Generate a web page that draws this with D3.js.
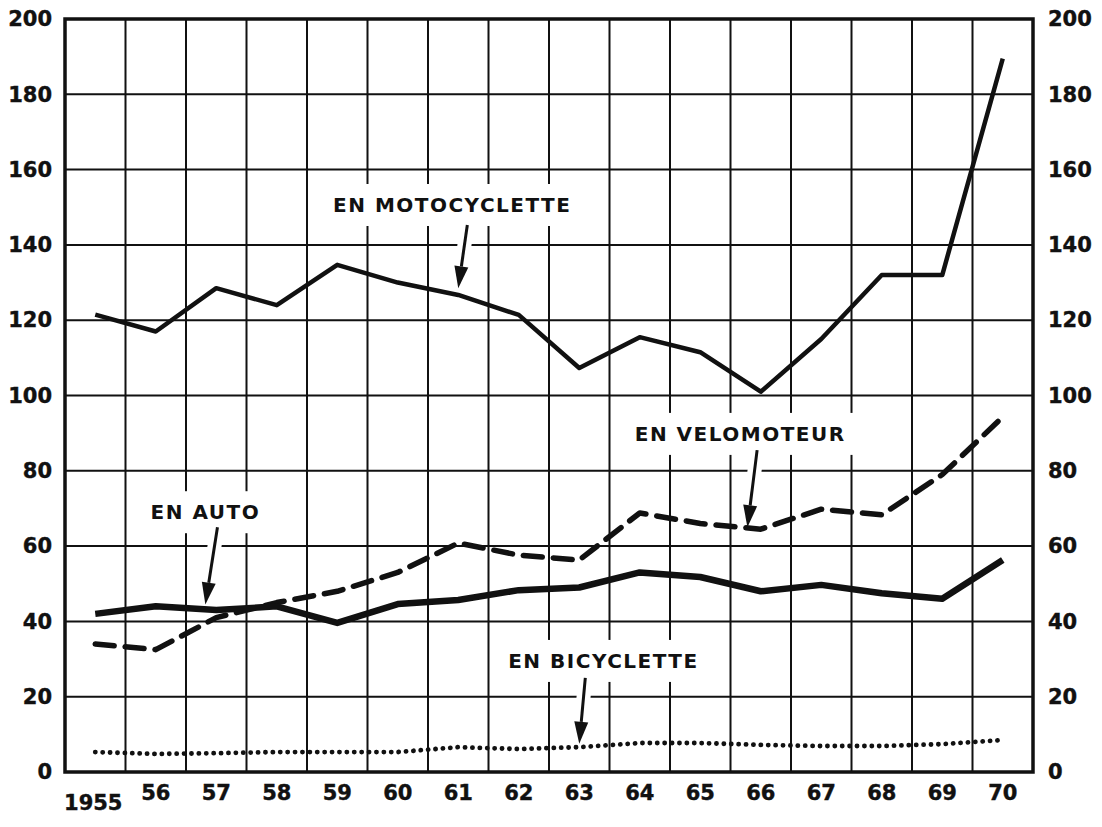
<!DOCTYPE html>
<html>
<head>
<meta charset="utf-8">
<script src="https://cdn.jsdelivr.net/npm/d3@7"></script>
<style>
  body { margin: 0; background: #fff; }
  text { font-family: "DejaVu Sans", sans-serif; font-weight: bold; fill: #111; }
</style>
</head>
<body>
<div id="chart"></div>
<script>
// Data
const years = d3.range(1955, 1971);
const yearLabels = ["1955", "56", "57", "58", "59", "60", "61", "62", "63", "64", "65", "66", "67", "68", "69", "70"];
const yTicks = [0, 20, 40, 60, 80, 100, 120, 140, 160, 180, 200];

const moto  = [121.5, 117, 128.5, 124, 134.7, 130, 126.7, 121.4, 107.3, 115.5, 111.5, 101, 115, 132, 132, 189.5];
const velo  = [34, 32.5, 41, 45, 48, 53, 60.8, 57.6, 56.3, 68.8, 66, 64.5, 69.8, 68.3, 79, 94.3];
const auto  = [42, 44, 43, 44, 39.6, 44.6, 45.7, 48.3, 49, 53, 51.8, 48, 49.7, 47.5, 46, 56.3];
const bicy  = [5.3, 4.8, 5, 5.3, 5.3, 5.3, 6.6, 6.1, 6.6, 7.7, 7.7, 7.2, 6.9, 6.9, 7.4, 8.5];

// labels: text, label centre (year, value), arrow start, arrow tip
const notes = [
  {text: "EN MOTOCYCLETTE", lx: 1960.9, ly: 150.6, x1: 1961.15, y1: 145.3, x2: 1961.0, y2: 128.5},
  {text: "EN VELOMOTEUR",   lx: 1965.66, ly: 89.8, x1: 1965.94, y1: 85.5, x2: 1965.78, y2: 65},
  {text: "EN AUTO",         lx: 1956.82, ly: 69,   x1: 1957.02, y1: 65,   x2: 1956.82, y2: 44.5},
  {text: "EN BICYCLETTE",   lx: 1963.4, ly: 29.5,  x1: 1963.1, y1: 25,    x2: 1963.0, y2: 7.5}
];

const W = 1102, H = 827;
const margin = {top: 19, right: 69, bottom: 55, left: 65};
const width = W - margin.left - margin.right;
const height = H - margin.top - margin.bottom;

const svg = d3.select("#chart").append("svg")
    .attr("width", W).attr("height", H);
const g = svg.append("g")
    .attr("transform", `translate(${margin.left},${margin.top})`);

const x = d3.scaleBand().domain(years).range([0, width]).paddingInner(0).paddingOuter(0);
const bw = x.bandwidth();
const xc = d3.scaleLinear().domain([1955, 1970]).range([x(1955) + bw / 2, x(1970) + bw / 2]);
const y = d3.scaleLinear().domain([0, 200]).range([height, 0]);

// grid
g.append("g").selectAll("line.v")
  .data(years.slice(1))
  .join("line")
    .attr("x1", d => x(d)).attr("x2", d => x(d))
    .attr("y1", 0).attr("y2", height)
    .attr("stroke", "#111").attr("stroke-width", 2);
g.append("g").selectAll("line.h")
  .data(yTicks.slice(1, -1))
  .join("line")
    .attr("x1", 0).attr("x2", width)
    .attr("y1", d => y(d)).attr("y2", d => y(d))
    .attr("stroke", "#111").attr("stroke-width", 2);

// frame
g.append("rect")
    .attr("width", width).attr("height", height)
    .attr("fill", "none").attr("stroke", "#111").attr("stroke-width", 3.5);

// y axes labels
const yLeft = g.append("g")
    .call(d3.axisLeft(y).tickValues(yTicks).tickSize(0).tickPadding(13));
const yRight = g.append("g")
    .attr("transform", `translate(${width},0)`)
    .call(d3.axisRight(y).tickValues(yTicks).tickSize(0).tickPadding(15));
[yLeft, yRight].forEach(a => {
  a.select(".domain").remove();
  a.selectAll("text").style("font-size", "21px").style("font-family", "DejaVu Sans").style("font-weight", "bold")
    .attr("fill", "#111").attr("stroke", "#111").attr("stroke-width", 0.4);
});

// x axis labels
const xAxis = g.append("g")
    .attr("transform", `translate(0,${height})`)
    .call(d3.axisBottom(x).tickSize(0).tickPadding(13).tickFormat((d, i) => yearLabels[i]));
xAxis.select(".domain").remove();
xAxis.selectAll("text")
    .style("font-size", "21px").style("font-family", "DejaVu Sans").style("font-weight", "bold")
    .attr("fill", "#111").attr("stroke", "#111").attr("stroke-width", 0.4)
    .attr("dy", (d, i) => i === 0 ? "1.2em" : "0.71em")
    .attr("dx", (d, i) => i === 0 ? "-2" : "0");

// lines
const line = d3.line()
    .x((d, i) => x(years[i]) + bw / 2)
    .y(d => y(d));

g.append("path").datum(moto)
    .attr("d", line).attr("fill", "none")
    .attr("stroke", "#111").attr("stroke-width", 4.5).attr("stroke-linejoin", "round");
g.append("path").datum(velo)
    .attr("d", line).attr("fill", "none")
    .attr("stroke", "#111").attr("stroke-width", 5.5)
    .attr("stroke-dasharray", "19 11").attr("stroke-linecap", "round").attr("stroke-linejoin", "round");
g.append("path").datum(auto)
    .attr("d", line).attr("fill", "none")
    .attr("stroke", "#111").attr("stroke-width", 6.5).attr("stroke-linejoin", "round");
g.append("path").datum(bicy)
    .attr("d", line).attr("fill", "none")
    .attr("stroke", "#111").attr("stroke-width", 4.8)
    .attr("stroke-dasharray", "0.1 7.3").attr("stroke-linecap", "round");

// annotations
const ann = g.append("g");
notes.forEach(n => {
  const t = ann.append("text")
      .attr("x", xc(n.lx)).attr("y", y(n.ly))
      .attr("text-anchor", "middle").attr("dominant-baseline", "central")
      .style("font-size", "20px").style("letter-spacing", "1.5px")
      .text(n.text);
  const bb = t.node().getBBox();
  ann.insert("rect", "text")
      .attr("x", bb.x - 8).attr("y", bb.y - 9)
      .attr("width", bb.width + 16).attr("height", bb.height + 18)
      .attr("fill", "#fff");

  const ax1 = xc(n.x1), ay1 = y(n.y1), ax2 = xc(n.x2), ay2 = y(n.y2);
  const ang = Math.atan2(ay2 - ay1, ax2 - ax1);
  const hl = 22, hw = 7;
  const bx = ax2 - hl * Math.cos(ang), by = ay2 - hl * Math.sin(ang);
  // white halo under arrow shaft
  ann.append("line")
      .attr("x1", ax1).attr("y1", ay1).attr("x2", bx).attr("y2", by)
      .attr("stroke", "#fff").attr("stroke-width", 14);
  ann.append("line")
      .attr("x1", ax1).attr("y1", ay1).attr("x2", bx).attr("y2", by)
      .attr("stroke", "#111").attr("stroke-width", 3);
  const px = -Math.sin(ang), py = Math.cos(ang);
  ann.append("path")
      .attr("d", `M${ax2},${ay2}L${bx + px * hw},${by + py * hw}L${bx - px * hw},${by - py * hw}Z`)
      .attr("fill", "#111");
});
</script>
</body>
</html>
